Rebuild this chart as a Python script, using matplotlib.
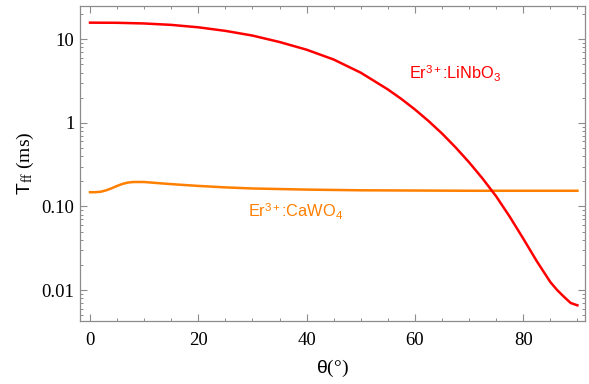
import numpy as np
import matplotlib
matplotlib.use("Agg")
from matplotlib import pyplot as plt
from matplotlib.ticker import FixedLocator, LogLocator, MultipleLocator, NullFormatter

plt.rcParams['font.family'] = ['Liberation Serif', 'DejaVu Serif']
plt.rcParams['mathtext.fontset'] = 'custom'
plt.rcParams['mathtext.rm'] = 'Liberation Serif'
plt.rcParams['mathtext.it'] = 'Liberation Serif:italic'
plt.rcParams['mathtext.sf'] = 'Liberation Sans'

# Er3+:LiNbO3
theta_lin = [0, 5, 10, 15, 20, 25, 30, 35, 40, 45, 50, 55, 57.5, 60, 62.5, 65, 67.5,
             70, 72.5, 75, 77.5, 80, 82.5, 85, 86.25, 87.5, 88.75, 90]
t_lin = [15.8, 15.74, 15.45, 14.86, 13.9, 12.6, 11.07, 9.27, 7.5, 5.72, 3.98, 2.51, 1.93,
         1.445, 1.053, 0.745, 0.509, 0.337, 0.215, 0.132, 0.0754, 0.0412, 0.0221,
         0.01245, 0.0100, 0.00832, 0.0070, 0.00656]

# Er3+:CaWO4
theta_caw = [0, 1, 2, 3, 4, 5, 6, 7, 8, 10, 13.5, 16, 20, 25, 30, 40, 50, 60, 70, 80, 90]
t_caw = [0.148, 0.148, 0.150, 0.156, 0.165, 0.176, 0.186, 0.193, 0.196, 0.196, 0.188,
         0.183, 0.176, 0.169, 0.164, 0.159, 0.156, 0.155, 0.154, 0.154, 0.154]

yticks = [0.01, 0.1, 1, 10]
ytick_labels = ['0.01', '0.10', '1', '10']
xticks = [0, 20, 40, 60, 80]

red = '#ff0000'
orange = '#ff7f00'
grey = '#8c8c8c'

fig = plt.figure(figsize=(5.89, 3.84), dpi=100)
ax = fig.add_axes([80 / 589, 1 - 321 / 384, 505 / 589, 315 / 384])

ax.plot(theta_caw, t_caw, color=orange, lw=1.8)
ax.plot(theta_lin, t_lin, color=red, lw=1.8)

ax.set_yscale('log')
ax.set_xlim(-1.85, 91.4)
ax.set_ylim(0.00426, 25)

ax.yaxis.set_major_locator(FixedLocator(yticks))
ax.set_yticklabels(ytick_labels)
ax.yaxis.set_minor_locator(LogLocator(base=10, subs=np.arange(2, 10)))
ax.yaxis.set_minor_formatter(NullFormatter())
ax.xaxis.set_major_locator(FixedLocator(xticks))
ax.xaxis.set_minor_locator(MultipleLocator(5))

for s in ax.spines.values():
    s.set_color(grey)
    s.set_linewidth(0.9)
ax.tick_params(which='both', direction='in', top=True, right=True, color=grey, labelsize=13.5)
ax.tick_params(which='major', length=5, width=0.8)
ax.tick_params(which='minor', length=2.5, width=0.7)
ax.tick_params(axis='x', pad=8)
ax.tick_params(axis='y', pad=4)

ax.set_xlabel(r'$\mathsf{\theta}$(°)', fontsize=14, labelpad=6)
ax.set_ylabel(r'$\mathsf{T}_{\mathrm{ff}}$ (ms)', fontsize=14, labelpad=4)

ax.text(67.4, 3.9, r'Er$^{\mathsf{3+}}$:LiNbO$_{\mathsf{3}}$', color=red, fontsize=11.8,
        family='Liberation Sans', ha='center', va='center')
ax.text(37.9, 0.086, r'Er$^{\mathsf{3+}}$:CaWO$_{\mathsf{4}}$', color=orange, fontsize=11.8,
        family='Liberation Sans', ha='center', va='center')

fig.savefig('out.png', dpi=100)
